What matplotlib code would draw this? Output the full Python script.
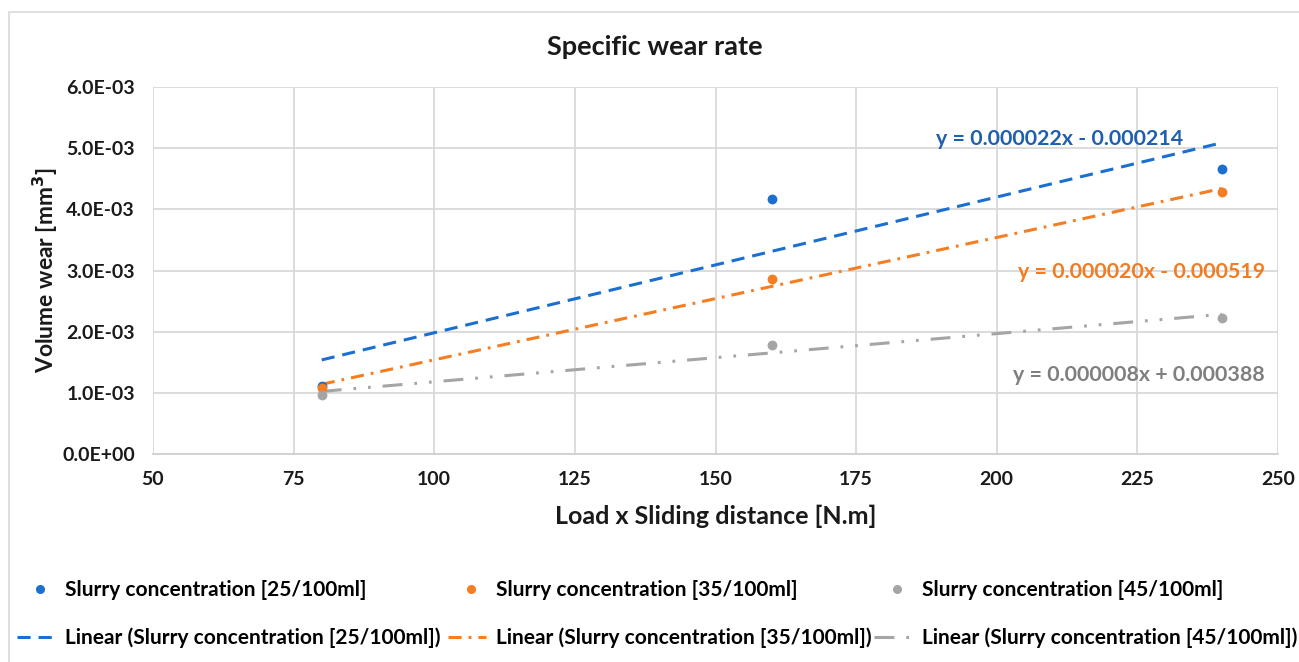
import numpy as np
import matplotlib.pyplot as plt
from matplotlib.patches import Rectangle
from matplotlib.ticker import FuncFormatter, MultipleLocator
from matplotlib.lines import Line2D

# Data
x_vals = [80, 160, 240]
series_names = ["Slurry concentration [25/100ml]",
                "Slurry concentration [35/100ml]",
                "Slurry concentration [45/100ml]"]
wear_25 = [1.11e-3, 4.17e-3, 4.66e-3]
wear_35 = [1.08e-3, 2.86e-3, 4.28e-3]
wear_45 = [0.96e-3, 1.78e-3, 2.22e-3]
equations = ["y = 0.000022x - 0.000214",
             "y = 0.000020x - 0.000519",
             "y = 0.000008x + 0.000388"]
x_ticks = [50, 75, 100, 125, 150, 175, 200, 225, 250]

plt.rcParams['font.family'] = ['Lato', 'DejaVu Sans']
plt.rcParams['font.weight'] = 'bold'

W, H = 1299, 662
colors = ['#1a6fd0', '#f57d22', '#a5a5a5']
text_colors = ['#1f5fae', '#f27c22', '#7f7f7f']
dashes = [(4.3, 2.6), (4.3, 2.3, 0.9, 2.3), (6.5, 3.9, 0.9, 3.9, 0.9, 3.9)]
LW = 2.2

fig = plt.figure(figsize=(W/100, H/100), dpi=100)
fig.patches.append(Rectangle((9/W, -0.1), 1.2, 1 - 12/H + 0.1, transform=fig.transFigure,
                             fill=False, edgecolor='#d9d9d9', linewidth=1.2))
ax = fig.add_axes([153/W, 1 - 454/H, (1278-153)/W, (454-87)/H])

data = [wear_25, wear_35, wear_45]
eq_pos = [(1060, 139, 'center'), (1265, 272, 'right'), (1265, 375, 'right')]
handles_s, handles_l = [], []
for i, ys in enumerate(data):
    ax.scatter(x_vals, ys, s=50, color=colors[i], zorder=4, linewidths=0)
    coef = np.polyfit(x_vals, ys, 1)
    xl = np.array([x_vals[0], x_vals[-1]])
    ln, = ax.plot(xl, np.polyval(coef, xl), color=colors[i], linewidth=LW, zorder=3)
    ln.set_dashes(dashes[i])
    handles_s.append(Line2D([], [], marker='o', linestyle='none', color=colors[i], markersize=5.5))
    lh = Line2D([], [], color=colors[i], linewidth=LW)
    lh.set_dashes(dashes[i])
    handles_l.append(lh)
    px, py, ha = eq_pos[i]
    fig.text(px/W, 1 - py/H, equations[i], color=text_colors[i], fontsize=15.4,
             fontweight='bold', ha=ha, va='center')

ax.set_xlim(50, 250)
ax.set_ylim(0, 6e-3)
ax.set_xticks(x_ticks)
ax.yaxis.set_major_locator(MultipleLocator(1e-3))
ax.yaxis.set_major_formatter(FuncFormatter(lambda v, p: f"{v:.1E}"))
ax.grid(True, color='#d9d9d9', linewidth=1.3)
ax.set_axisbelow(True)
for s in ['top', 'right', 'left']:
    ax.spines[s].set_visible(False)
ax.spines['bottom'].set_color('#d0d0d0')
ax.spines['bottom'].set_linewidth(1.3)
ax.tick_params(axis='both', length=0, labelsize=14, colors='#1a1a1a')
ax.tick_params(axis='x', pad=12)
ax.tick_params(axis='y', pad=13)
for lab in ax.get_xticklabels() + ax.get_yticklabels():
    lab.set_fontweight('bold')

fig.text(655/W, 1 - 47/H, "Specific wear rate", fontsize=19.5, fontweight='bold',
         color='#1a1a1a', ha='center', va='center')
ax.set_ylabel("Volume wear [mm$^{\\mathbf{3}}$]", fontsize=16.5, fontweight='bold', color='#1a1a1a')
ax.yaxis.set_label_coords((60 - 153) / (1278 - 153), 0.5)
ax.set_xlabel("Load x Sliding distance [N.m]", fontsize=18, fontweight='bold', labelpad=12, color='#1a1a1a')

FS = 15
fpx = FS * 100 / 72.0

def place(handle, label, x0, y, hlen_px, text_x):
    leg = fig.legend([handle], [label], loc='center left',
                     bbox_to_anchor=(x0/W, 1 - y/H), frameon=False, fontsize=FS,
                     borderpad=0, borderaxespad=0,
                     handlelength=hlen_px/fpx, handletextpad=(text_x - x0 - hlen_px)/fpx)
    for t in leg.get_texts():
        t.set_fontweight('bold')
    return leg

col_handle = [17, 448, 874]
col_text = [65, 496, 922]
for i in range(3):
    # Row 1: marker entries
    place(handles_s[i], series_names[i], col_handle[i] + 10, 590, 26, col_text[i])
    # Row 2: trendline entries
    place(handles_l[i], "Linear (" + series_names[i] + ")", col_handle[i], 638, 38, col_text[i])

fig.savefig('out.png', dpi=100)
